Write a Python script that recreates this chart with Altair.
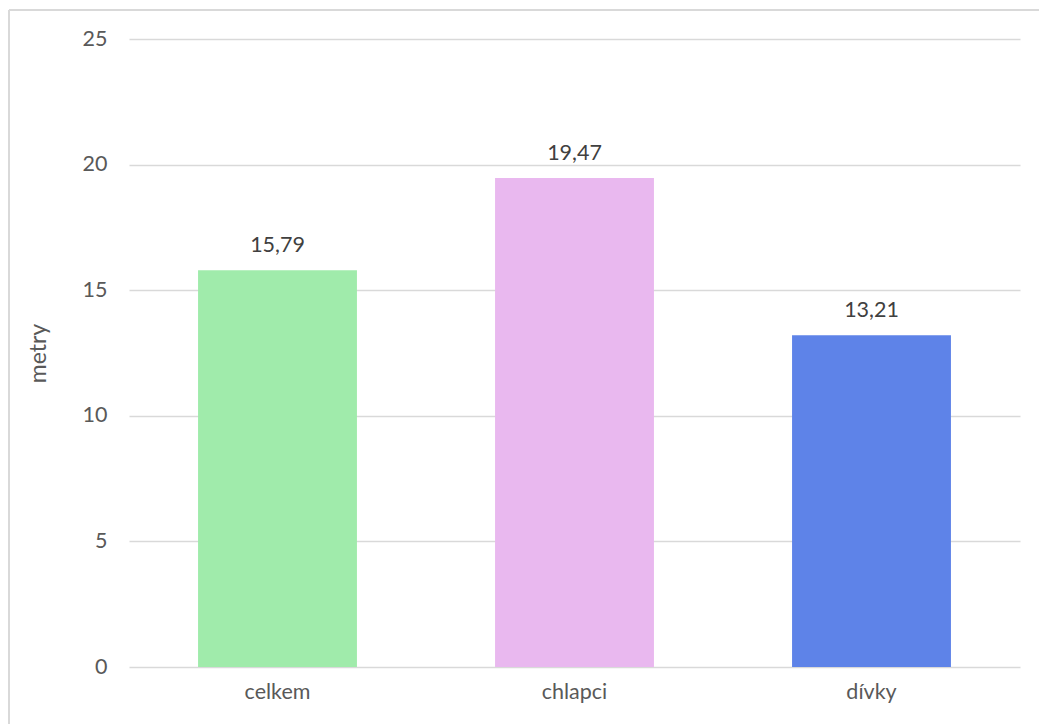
import altair as alt
import pandas as pd

categories = ["celkem", "chlapci", "dívky"]
values = [15.79, 19.47, 13.21]
labels = ["15,79", "19,47", "13,21"]
colors = ["#A0EBAB", "#E9B8EF", "#5E83E8"]
y_ticks = [0, 5, 10, 15, 20, 25]

df = pd.DataFrame({"kat": categories, "val": values, "lab": labels, "col": colors})

FONT = "Lato"

x_enc = alt.X("kat:N", sort=categories, title=None,
              scale=alt.Scale(paddingInner=0.465, paddingOuter=0.2325),
              axis=alt.Axis(labelAngle=0, labelFont=FONT, labelFontSize=21.5, labelColor="#595959",
                            labelPadding=14, ticks=False, domain=False, grid=False))
y_enc = alt.Y("val:Q", title="metry",
              scale=alt.Scale(domain=[0, 25], nice=False),
              axis=alt.Axis(values=y_ticks, labelFont=FONT, labelFontSize=21.5, labelColor="#595959",
                            labelPadding=22, ticks=False, domain=False, grid=True,
                            gridColor="#d9d9d9", gridWidth=1.3,
                            titleFont=FONT, titleFontSize=23, titleColor="#595959",
                            titleFontWeight="normal", titlePadding=32))

bars = alt.Chart(df).mark_bar().encode(
    x=x_enc, y=y_enc, color=alt.Color("col:N", scale=None)
)
text = alt.Chart(df).mark_text(dy=-24, font=FONT, fontSize=21.5, color="#404040").encode(
    x=alt.X("kat:N", sort=categories), y="val:Q", text="lab:N"
)

frame_df = pd.DataFrame({"a": [0]})
left_line = alt.Chart(frame_df).mark_rule(color="#d9d9d9", strokeWidth=2).encode(
    x=alt.value(-120), y=alt.value(-29), y2=alt.value(700)
)
top_line = alt.Chart(frame_df).mark_rule(color="#d9d9d9", strokeWidth=2).encode(
    x=alt.value(-120), x2=alt.value(930), y=alt.value(-29)
)

chart = alt.layer(bars, text, left_line, top_line).properties(
    width=891, height=628,
    autosize=alt.AutoSizeParams(type="none"),
    padding={"left": 129, "top": 39, "right": 19, "bottom": 57},
    background="white",
).configure_view(stroke=None)

chart.save("out.html", embed_options={"renderer": "svg", "actions": False})
